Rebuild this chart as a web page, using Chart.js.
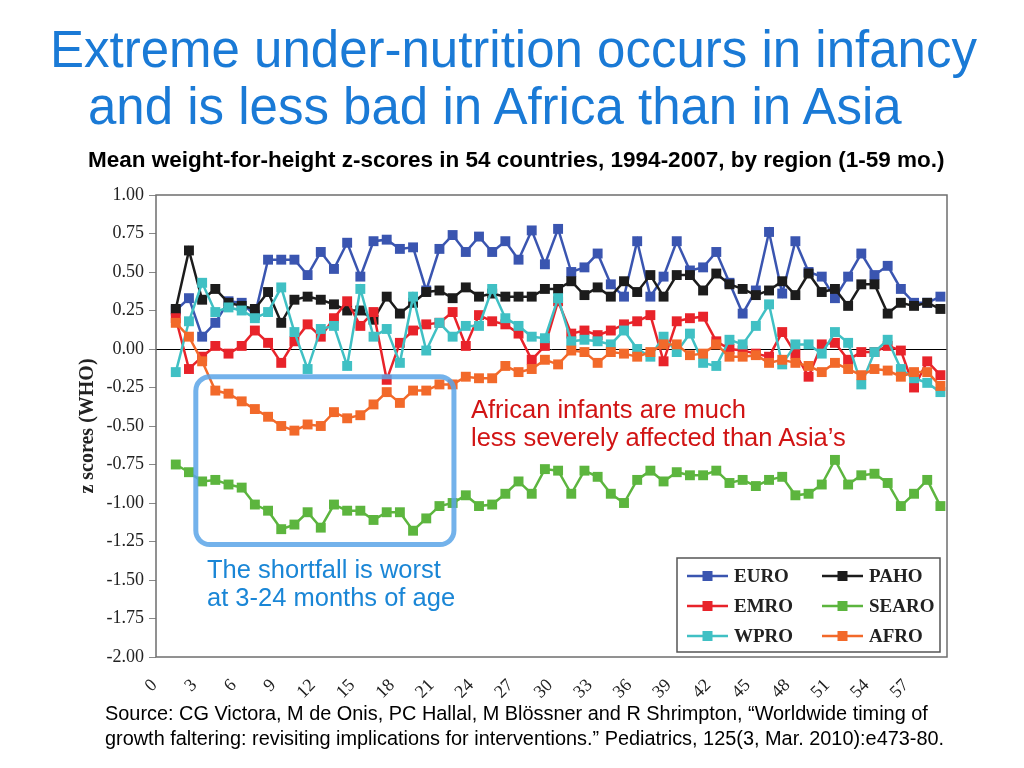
<!DOCTYPE html>
<html>
<head>
<meta charset="utf-8">
<script src="https://cdn.jsdelivr.net/npm/chart.js@4.4.1/dist/chart.umd.min.js"></script>
<style>
  html, body { margin: 0; padding: 0; background: #fff; }
  body { width: 1024px; height: 768px; position: relative; overflow: hidden; font-family: "Liberation Sans", Arial, sans-serif; }
  #chart { position: absolute; left: 0; top: 0; }
  .txt { position: absolute; white-space: nowrap; }
  .title { color: #1a7ad6; font-size: 51px; line-height: 55px; }
  .sub { font-weight: bold; font-size: 22.5px; line-height: 22.5px; color: #000; left: 88px; top: 149px; }
  .note-red { color: #d11414; font-size: 25.5px; line-height: 28px; left: 471px; top: 395px; }
  .note-blue { color: #1a86d6; font-size: 25.5px; line-height: 28px; left: 207px; top: 555px; }
  .src { font-size: 19.9px; line-height: 25px; color: #000; left: 105px; top: 701px; }
</style>
</head>
<body>
<canvas id="chart" width="1024" height="768"></canvas>
<div class="txt title" style="left:50px; top:22px;">Extreme under-nutrition occurs in infancy</div>
<div class="txt title" style="left:88px; top:79px;">and is less bad in Africa than in Asia</div>
<div class="txt sub">Mean weight-for-height z-scores in 54 countries, 1994-2007, by region (1-59 mo.)</div>
<div class="txt note-red">African infants are much<br>less severely affected than Asia’s</div>
<div class="txt note-blue">The shortfall is worst<br>at 3-24 months of age</div>
<div class="txt src">Source: CG Victora, M de Onis, PC Hallal, M Blössner and R Shrimpton, “Worldwide timing of<br>growth faltering: revisiting implications for interventions.” Pediatrics, 125(3, Mar. 2010):e473-80.</div>

<script>
// months of age, 1-59
const months = [1,2,3,4,5,6,7,8,9,10,11,12,13,14,15,16,17,18,19,20,21,22,23,24,25,26,27,28,29,30,
  31,32,33,34,35,36,37,38,39,40,41,42,43,44,45,46,47,48,49,50,51,52,53,54,55,56,57,58,59];
const xTickValues = [0,3,6,9,12,15,18,21,24,27,30,33,36,39,42,45,48,51,54,57];

const euro = [0.25,0.33,0.08,0.17,0.31,0.30,0.22,0.58,0.58,0.58,0.48,0.63,0.52,0.69,0.47,0.70,0.71,0.65,0.66,0.38,
  0.65,0.74,0.63,0.73,0.63,0.70,0.58,0.77,0.55,0.78,0.50,0.53,0.62,0.42,0.34,0.70,0.34,0.47,0.70,0.51,
  0.53,0.63,0.43,0.23,0.38,0.76,0.36,0.70,0.50,0.47,0.33,0.47,0.62,0.48,0.54,0.39,0.30,0.30,0.34];
const paho = [0.26,0.64,0.32,0.39,0.30,0.28,0.26,0.37,0.17,0.32,0.34,0.32,0.29,0.25,0.25,0.19,0.34,0.23,0.30,0.37,
  0.38,0.33,0.40,0.34,0.36,0.34,0.34,0.34,0.39,0.39,0.44,0.35,0.40,0.34,0.44,0.37,0.48,0.34,0.48,0.48,
  0.38,0.49,0.42,0.39,0.35,0.38,0.44,0.35,0.49,0.37,0.39,0.28,0.42,0.42,0.23,0.30,0.28,0.30,0.26];
const emro = [0.20,-0.13,-0.05,0.02,-0.03,0.02,0.12,0.04,-0.09,0.05,0.16,0.08,0.20,0.31,0.15,0.24,-0.20,0.04,0.12,0.16,
  0.17,0.24,0.02,0.22,0.18,0.16,0.10,-0.07,0.02,0.31,0.10,0.12,0.09,0.12,0.16,0.18,0.22,-0.08,0.18,0.20,
  0.21,0.05,0.00,-0.01,-0.03,-0.05,0.11,-0.03,-0.18,0.03,0.04,-0.07,-0.02,-0.02,0.02,-0.01,-0.25,-0.08,-0.17];
const searo = [-0.75,-0.80,-0.86,-0.85,-0.88,-0.90,-1.01,-1.05,-1.17,-1.14,-1.06,-1.16,-1.01,-1.05,-1.05,-1.11,-1.06,-1.06,-1.18,-1.10,
  -1.02,-1.00,-0.95,-1.02,-1.01,-0.94,-0.86,-0.94,-0.78,-0.79,-0.94,-0.79,-0.83,-0.94,-1.00,-0.85,-0.79,-0.86,-0.80,-0.82,
  -0.82,-0.79,-0.87,-0.85,-0.89,-0.85,-0.83,-0.95,-0.94,-0.88,-0.72,-0.88,-0.82,-0.81,-0.87,-1.02,-0.94,-0.85,-1.02];
const wpro = [-0.15,0.18,0.43,0.24,0.27,0.25,0.20,0.24,0.40,0.11,-0.13,0.13,0.15,-0.11,0.39,0.08,0.13,-0.09,0.34,-0.01,
  0.17,0.08,0.15,0.15,0.39,0.20,0.15,0.08,0.07,0.33,0.05,0.06,0.05,0.03,0.12,0.00,-0.05,0.08,-0.02,0.10,
  -0.09,-0.11,0.06,0.03,0.15,0.29,-0.10,0.03,0.03,-0.03,0.11,0.04,-0.23,-0.02,0.06,-0.13,-0.19,-0.22,-0.28];
const afro = [0.17,0.08,-0.08,-0.27,-0.29,-0.34,-0.39,-0.44,-0.50,-0.53,-0.49,-0.50,-0.41,-0.45,-0.43,-0.36,-0.28,-0.35,-0.27,-0.27,
  -0.23,-0.23,-0.18,-0.19,-0.19,-0.11,-0.15,-0.13,-0.07,-0.10,-0.01,-0.02,-0.09,-0.02,-0.03,-0.05,-0.02,0.03,0.03,-0.04,
  -0.03,0.03,-0.05,-0.05,-0.04,-0.09,-0.07,-0.09,-0.11,-0.15,-0.09,-0.13,-0.17,-0.13,-0.14,-0.18,-0.15,-0.15,-0.24];

const seriesNames = ['EURO', 'PAHO', 'EMRO', 'SEARO', 'WPRO', 'AFRO'];
const seriesColors = ['#3a55b0', '#1c1c1c', '#e8232a', '#5cb53e', '#40c0c4', '#f2692a'];
const seriesData = [euro, paho, emro, searo, wpro, afro];
const drawOrder = [4, 3, 2, 5, 1, 0];   // lower = drawn on top

function toPoints(vals) {
  return vals.map((v, i) => ({ x: months[i], y: v }));
}

const datasets = seriesNames.map((name, i) => ({
  label: name,
  data: toPoints(seriesData[i]),
  borderColor: seriesColors[i],
  backgroundColor: seriesColors[i],
  borderWidth: 2.5,
  pointStyle: 'rect',
  pointRadius: 7,
  pointHoverRadius: 7,
  pointBorderWidth: 0,
  tension: 0,
  order: drawOrder[i]
}));

// frame, zero line, highlight box and legend
const decorations = {
  id: 'decorations',
  beforeDatasetsDraw(chart) {
    const { ctx, chartArea: a, scales: { y } } = chart;
    ctx.save();
    ctx.strokeStyle = '#000';
    ctx.lineWidth = 1;
    const y0 = Math.round(y.getPixelForValue(0)) + 0.5;
    ctx.beginPath();
    ctx.moveTo(a.left, y0);
    ctx.lineTo(a.right, y0);
    ctx.stroke();
    ctx.restore();
  },
  afterDatasetsDraw(chart) {
    const { ctx, chartArea: a, scales: { x, y } } = chart;
    ctx.save();
    // frame
    ctx.strokeStyle = '#6e6e6e';
    ctx.lineWidth = 1.5;
    ctx.strokeRect(a.left, a.top, a.right - a.left, a.bottom - a.top);

    // rounded highlight box around 3-22 months
    const bx1 = x.getPixelForValue(2.52), bx2 = x.getPixelForValue(22.1);
    const by1 = y.getPixelForValue(-0.18), by2 = y.getPixelForValue(-1.27);
    ctx.strokeStyle = 'rgba(90,165,232,0.85)';
    ctx.lineWidth = 5;
    ctx.beginPath();
    ctx.roundRect(bx1, by1, bx2 - bx1, by2 - by1, 14);
    ctx.stroke();

    // legend
    const lx = 677, ly = 558, lw = 263, lh = 94;
    ctx.fillStyle = '#fff';
    ctx.fillRect(lx, ly, lw, lh);
    ctx.strokeStyle = '#555';
    ctx.lineWidth = 1.5;
    ctx.strokeRect(lx, ly, lw, lh);
    const rows = [576, 606, 636];
    const cols = [687, 822];
    ctx.font = 'bold 19px "Liberation Serif", "Times New Roman", serif';
    ctx.textBaseline = 'middle';
    seriesNames.forEach((name, k) => {
      const cx = cols[k % 2], cy = rows[Math.floor(k / 2)];
      ctx.strokeStyle = seriesColors[k];
      ctx.fillStyle = seriesColors[k];
      ctx.lineWidth = 2.5;
      ctx.beginPath();
      ctx.moveTo(cx, cy);
      ctx.lineTo(cx + 41, cy);
      ctx.stroke();
      ctx.fillRect(cx + 20.5 - 5, cy - 5, 10, 10);
      ctx.fillStyle = '#222';
      ctx.fillText(name, cx + 47, cy + 1);
    });
    ctx.restore();
  }
};

new Chart(document.getElementById('chart'), {
  type: 'line',
  data: { datasets },
  options: {
    responsive: false,
    animation: false,
    events: [],
    layout: { padding: { left: 76, right: 77, top: 195, bottom: 61 } },
    plugins: { legend: { display: false }, tooltip: { enabled: false } },
    scales: {
      x: {
        type: 'linear',
        min: -0.5,
        max: 59.5,
        afterBuildTicks: s => { s.ticks = xTickValues.map(v => ({ value: v })); },
        afterFit: s => { s.height = 50; },
        grid: { display: false },
        border: { display: false },
        ticks: {
          autoSkip: false,
          minRotation: 45,
          maxRotation: 45,
          padding: 10,
          labelOffset: -8,
          color: '#222',
          font: { family: '"Liberation Serif", "Times New Roman", serif', size: 18 }
        }
      },
      y: {
        min: -2,
        max: 1,
        afterFit: s => { s.width = 80; },
        grid: { drawOnChartArea: false, tickLength: 7, color: '#888' },
        border: { display: false },
        ticks: {
          stepSize: 0.25,
          padding: 5,
          color: '#222',
          font: { family: '"Liberation Serif", "Times New Roman", serif', size: 18 },
          callback: v => v.toFixed(2)
        },
        title: {
          display: true,
          text: 'z scores (WHO)',
          color: '#222',
          padding: 0,
          font: { family: '"Liberation Serif", "Times New Roman", serif', size: 20, weight: 'bold' }
        }
      }
    }
  },
  plugins: [decorations]
});
</script>
</body>
</html>
